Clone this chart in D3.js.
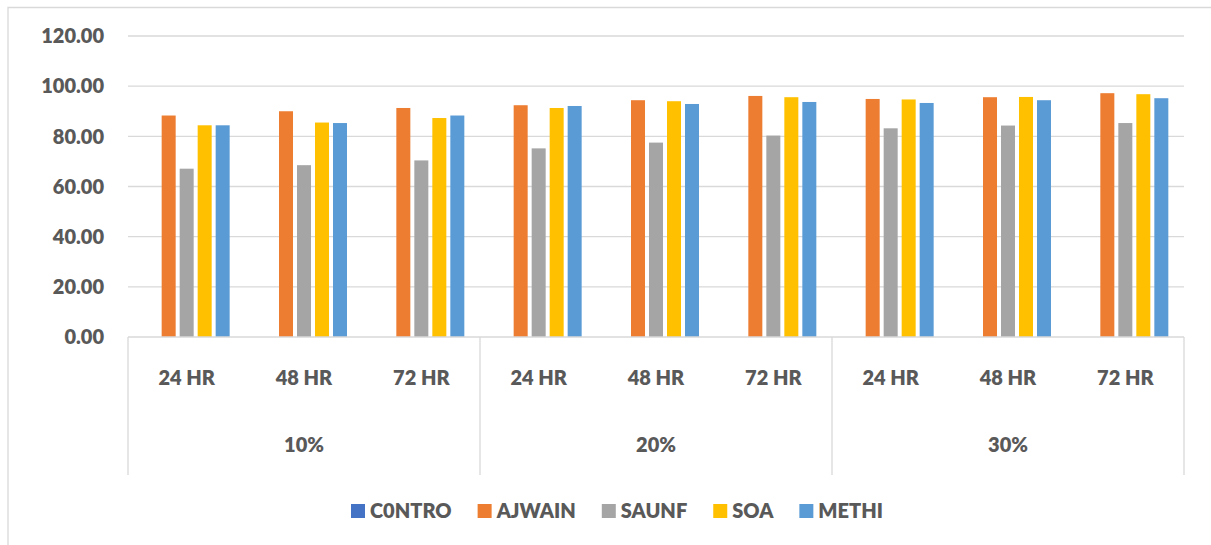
<!DOCTYPE html>
<html>
<head>
    <meta charset="utf-8">
    <title>Mortality by extract</title>
    <style>
        body { margin: 0; background: #fff; }
        text { font-family: Lato, "Open Sans", sans-serif; font-weight: 800; fill: #595959; }
        .grid line { stroke: #d9d9d9; stroke-width: 1.3px; }
        .frame { stroke: #d9d9d9; stroke-width: 1.3px; fill: none; }
    </style>
</head>
<body>
    <div class="viz"></div>
    <script src="https://cdnjs.cloudflare.com/ajax/libs/d3/7.8.5/d3.min.js"></script>
    <script>
        // data
        var hours = ["24 HR", "48 HR", "72 HR"];
        var doses = ["10%", "20%", "30%"];
        var seriesNames = ["C0NTRO", "AJWAIN", "SAUNF", "SOA", "METHI"];
        var seriesColors = ["#4472c4", "#ed7d31", "#a5a5a5", "#ffc000", "#5b9bd5"];
        var yTicks = [0, 20, 40, 60, 80, 100, 120];

        var contro = [0, 0, 0, 0, 0, 0, 0, 0, 0];
        var ajwain = [88.3, 90.0, 91.3, 92.4, 94.4, 96.1, 94.9, 95.6, 97.2];
        var saunf  = [67.1, 68.5, 70.4, 75.2, 77.5, 80.3, 83.2, 84.3, 85.3];
        var soa    = [84.4, 85.5, 87.3, 91.3, 94.0, 95.6, 94.7, 95.7, 96.8];
        var methi  = [84.4, 85.3, 88.3, 92.1, 92.9, 93.7, 93.3, 94.4, 95.2];
        var allSeries = [contro, ajwain, saunf, soa, methi];

        var width = 1211, height = 545;
        var plot = {left: 128, right: 1184, top: 36, bottom: 337};
        var axisBottom = 475;

        var svg = d3.select('.viz').append('svg')
            .attr('width', width)
            .attr('height', height);

        // outer chart frame (only left and top edges show)
        svg.append('path')
            .attr('class', 'frame')
            .attr('d', 'M8,' + height + 'V7.5H' + width);

        var cats = [];
        doses.forEach(function (d) {
            hours.forEach(function (h) { cats.push(d + '|' + h); });
        });

        var x = d3.scaleBand()
            .domain(cats)
            .range([plot.left, plot.right]);

        var xGroup = d3.scaleBand()
            .domain(doses)
            .range([plot.left, plot.right]);

        var y = d3.scaleLinear()
            .domain([0, 120])
            .range([plot.bottom, plot.top]);

        // gridlines
        svg.append('g')
            .attr('class', 'grid')
            .selectAll('line')
            .data(yTicks.slice(1))
            .enter().append('line')
            .attr('x1', plot.left)
            .attr('x2', plot.right)
            .attr('y1', function (d) { return y(d); })
            .attr('y2', function (d) { return y(d); });

        // y labels
        svg.append('g')
            .selectAll('text')
            .data(yTicks)
            .enter().append('text')
            .attr('x', 104)
            .attr('y', function (d) { return y(d); })
            .attr('dy', '0.36em')
            .attr('text-anchor', 'end')
            .style('font-size', '20px')
            .text(function (d) { return d3.format('.2f')(d); });

        // bars
        var inner = d3.scaleBand()
            .domain(d3.range(seriesNames.length))
            .range([-43, 43])
            .paddingInner(0.222);

        var barG = svg.append('g');
        allSeries.forEach(function (vals, si) {
            barG.append('g')
                .selectAll('rect')
                .data(vals)
                .enter().append('rect')
                .attr('x', function (d, i) { return x(cats[i]) + x.bandwidth() / 2 + inner(si); })
                .attr('width', inner.bandwidth())
                .attr('y', function (d) { return y(d); })
                .attr('height', function (d) { return y(0) - y(d); })
                .attr('fill', seriesColors[si]);
        });

        // category axis: baseline and group separators
        var axisG = svg.append('g').attr('class', 'grid');
        axisG.append('line')
            .attr('x1', plot.left).attr('x2', plot.right)
            .attr('y1', y(0)).attr('y2', y(0));
        axisG.selectAll('.sep')
            .data(doses.concat(['end']))
            .enter().append('line')
            .attr('x1', function (d, i) { return plot.left + i * xGroup.bandwidth(); })
            .attr('x2', function (d, i) { return plot.left + i * xGroup.bandwidth(); })
            .attr('y1', y(0))
            .attr('y2', axisBottom);

        svg.append('g')
            .selectAll('text')
            .data(cats)
            .enter().append('text')
            .attr('x', function (d) { return x(d) + x.bandwidth() / 2; })
            .attr('y', 385)
            .attr('text-anchor', 'middle')
            .style('font-size', '20px')
            .text(function (d) { return d.split('|')[1]; });

        svg.append('g')
            .selectAll('text')
            .data(doses)
            .enter().append('text')
            .attr('x', function (d) { return xGroup(d) + xGroup.bandwidth() / 2; })
            .attr('y', 452)
            .attr('text-anchor', 'middle')
            .style('font-size', '20px')
            .text(function (d) { return d; });

        // legend
        var legend = svg.append('g');
        var lx = 351, ly = 511;
        seriesNames.forEach(function (name, i) {
            legend.append('rect')
                .attr('x', lx)
                .attr('y', ly - 7)
                .attr('width', 14)
                .attr('height', 14)
                .attr('fill', seriesColors[i]);
            var t = legend.append('text')
                .attr('x', lx + 19)
                .attr('y', ly)
                .attr('dy', '0.36em')
                .style('font-size', '20px')
                .text(name);
            lx = lx + 19 + t.node().getComputedTextLength() + 26;
        });
    </script>
</body>
</html>
